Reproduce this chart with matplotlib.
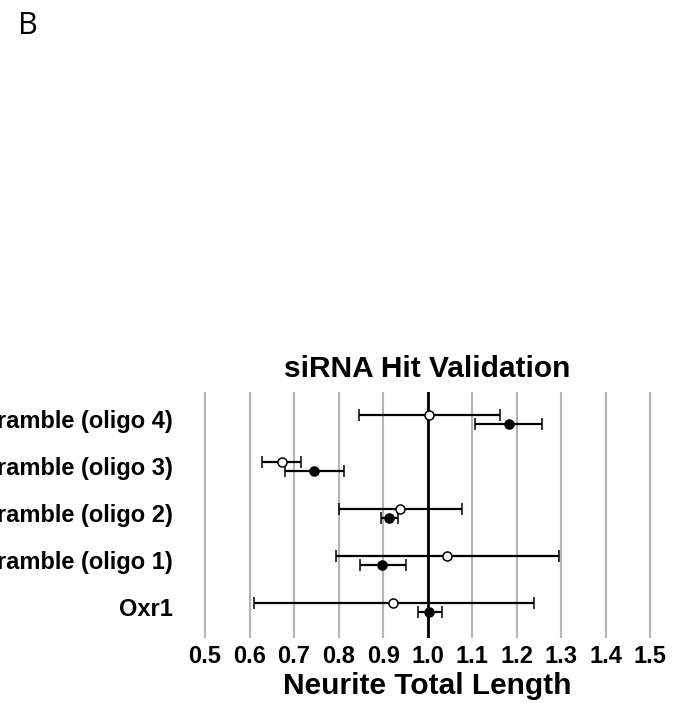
import numpy as np
import matplotlib
matplotlib.use("Agg")
import matplotlib.pyplot as plt

plt.rcParams["font.family"] = ["Liberation Sans", "DejaVu Sans"]

# rows from bottom to top
labels = ["Oxr1", "Scramble (oligo 1)", "Scramble (oligo 2)",
          "Scramble (oligo 3)", "Scramble (oligo 4)"]

# open markers (upper point of each row)
open_mean = [0.923, 1.044, 0.939, 0.672, 1.003]
open_lo = [0.610, 0.795, 0.800, 0.629, 0.845]
open_hi = [1.238, 1.294, 1.078, 0.715, 1.162]

# filled markers (lower point of each row)
filled_mean = [1.004, 0.898, 0.914, 0.745, 1.182]
filled_lo = [0.979, 0.847, 0.896, 0.679, 1.106]
filled_hi = [1.032, 0.952, 0.933, 0.812, 1.256]

xticks = [0.5, 0.6, 0.7, 0.8, 0.9, 1.0, 1.1, 1.2, 1.3, 1.4, 1.5]

fig = plt.figure(figsize=(6.77, 7.03), dpi=100)
ax = fig.add_axes([0.2699, 0.0925, 0.7236, 0.3499])

y = np.arange(len(labels))
off = 0.1


def bars(mean, lo, hi, ypos, face):
    mean = np.asarray(mean)
    err = [mean - np.asarray(lo), np.asarray(hi) - mean]
    ax.errorbar(mean, ypos, xerr=err, fmt="o", color="black", ecolor="black",
                elinewidth=1.6, capsize=4, capthick=1.6, markersize=6.5,
                markerfacecolor=face, markeredgecolor="black",
                markeredgewidth=1.1, zorder=3)


bars(open_mean, open_lo, open_hi, y + off, "white")
bars(filled_mean, filled_lo, filled_hi, y - off, "black")

ax.axvline(1.0, color="black", lw=2, zorder=2)

ax.set_xlim(0.45, 1.55)
ax.set_ylim(-0.65, 4.58)
ax.set_xticks(xticks)
ax.set_xticklabels([f"{v:.1f}" for v in xticks])
ax.set_yticks(y)
ax.set_yticklabels(labels)
ax.grid(axis="x", color="#b4b4b4", lw=1.5, zorder=0)
ax.set_axisbelow(True)
for s in ax.spines.values():
    s.set_visible(False)
ax.tick_params(axis="both", length=0, labelsize=17)
ax.tick_params(axis="x", pad=5)
ax.tick_params(axis="y", pad=7)
for t in ax.get_xticklabels() + ax.get_yticklabels():
    t.set_fontweight("bold")

ax.set_title("siRNA Hit Validation", fontsize=21.5, fontweight="bold", pad=11)
ax.set_xlabel("Neurite Total Length", fontsize=21.5, fontweight="bold",
              labelpad=3)

fig.text(0.027, 0.9516, "B", fontsize=22, family=["Open Sans", "DejaVu Sans"],
         va="baseline", ha="left")

fig.savefig("out.png", dpi=100)
